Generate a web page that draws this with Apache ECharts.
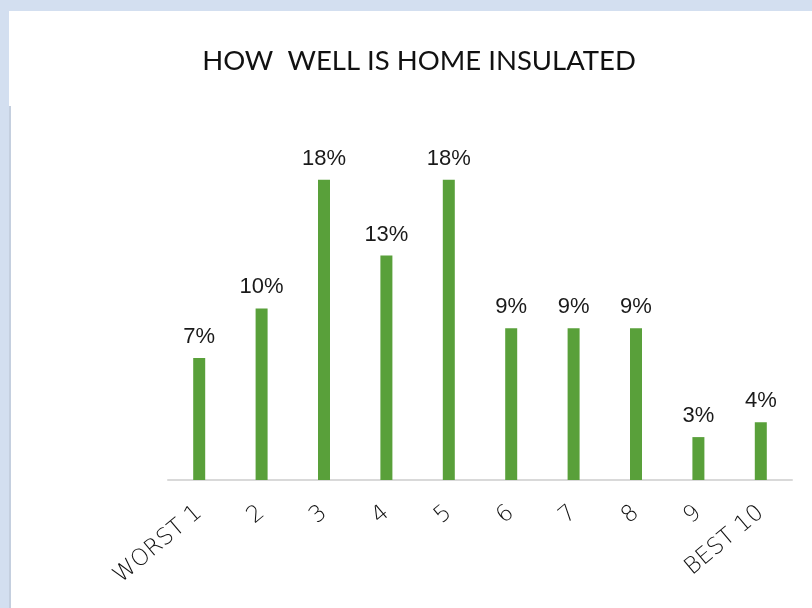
<!DOCTYPE html>
<html>
<head>
<meta charset="utf-8">
<script src="https://cdn.jsdelivr.net/npm/echarts@6/dist/echarts.min.js"></script>
<style>html,body{margin:0;padding:0;background:#d3dff0}#c{width:812px;height:608px}</style>
</head>
<body>
<div id="c"></div>
<script>
const categories = ['WORST 1', '2', '3', '4', '5', '6', '7', '8', '9', 'BEST 10'];
const values = [7.4, 10.4, 18.2, 13.6, 18.2, 9.2, 9.2, 9.2, 2.6, 3.5];
const valueLabels = ['7%', '10%', '18%', '13%', '18%', '9%', '9%', '9%', '3%', '4%'];
const titleText = 'HOW  WELL IS HOME INSULATED';

const chart = echarts.init(document.getElementById('c'), null, {renderer: 'canvas'});
chart.setOption({
  backgroundColor: '#d3dff0',
  animation: false,
  graphic: [
    {type: 'rect', z: -10, shape: {x: 9, y: 11, width: 803, height: 597}, style: {fill: '#ffffff'}},
    {type: 'rect', z: -9, shape: {x: 9, y: 106, width: 2, height: 502}, style: {fill: '#c4cfdf'}}
  ],
  title: {
    text: titleText,
    left: 414,
    top: 42,
    textAlign: 'center',
    textStyle: {fontFamily: 'Lato', fontWeight: 'normal', fontSize: 27.5, color: '#111111'}
  },
  grid: {left: 168, right: 20, top: 150, bottom: 128, containLabel: false},
  xAxis: {
    type: 'category',
    data: categories,
    axisLine: {show: true, lineStyle: {color: '#d9d9d9', width: 2}},
    axisTick: {show: false},
    axisLabel: {
      interval: 0,
      rotate: 40,
      margin: 30,
      fontFamily: 'DejaVu Sans',
      fontWeight: 300,
      fontSize: 23,
      color: '#111111'
    }
  },
  yAxis: {
    type: 'value',
    min: 0,
    max: 20,
    show: false,
    splitLine: {show: false}
  },
  series: [{
    type: 'bar',
    data: values,
    barWidth: 12,
    itemStyle: {color: '#59a03a'},
    label: {
      show: true,
      position: 'top',
      distance: 10,
      fontFamily: 'Liberation Sans',
      fontSize: 22,
      color: '#1a1a1a',
      formatter: p => valueLabels[p.dataIndex]
    }
  }]
});
</script>
</body>
</html>
